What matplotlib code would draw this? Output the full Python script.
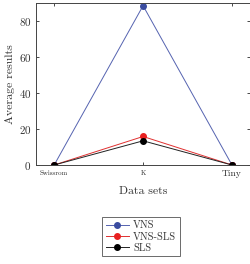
import matplotlib
matplotlib.use('Agg')
import matplotlib.pyplot as plt

plt.rcParams['font.family'] = ['cmr10', 'DejaVu Serif']
plt.rcParams['axes.formatter.use_mathtext'] = True

# data
datasets = ['Swissrom', 'K', 'Tiny']
vns     = [0.0, 88.3, 0.0]
vns_sls = [0.0, 15.8, 0.0]
sls     = [0.0, 13.4, 0.0]

fig = plt.figure(figsize=(2.51, 2.64), dpi=100)
ax = fig.add_axes([0.145, 0.375, 0.85, 0.615])

x = range(len(datasets))
ax.plot(x, vns, color='#5563b0', lw=0.7, marker='o', ms=4,
        mfc='#3a4ca0', mec='#3a4ca0', label='VNS')
ax.plot(x, vns_sls, color='#e03030', lw=0.7, marker='o', ms=4,
        mfc='#e82020', mec='#e82020', label='VNS-SLS')
ax.plot(x, sls, color='#222222', lw=0.7, marker='o', ms=4,
        mfc='black', mec='black', label='SLS')

ax.set_xlim(-0.2, 2.2)
ax.set_ylim(0, 90)
ax.set_yticks([0, 20, 40, 60, 80])
ax.set_xticks(list(x))
ax.set_xticklabels(datasets)
for lab, fs in zip(ax.get_xticklabels(), [5, 5, 7]):
    lab.set_fontsize(fs)
ax.tick_params(axis='y', labelsize=8)
ax.tick_params(direction='in', top=True, right=True, length=2.5, width=0.5,
               labelcolor='#333333')
for s in ax.spines.values():
    s.set_linewidth(0.7)
    s.set_color('#444444')

ax.set_xlabel('Data sets', fontsize=8.5, color='#333333', labelpad=6)
ax.set_ylabel('Average results', fontsize=8.5, color='#333333', labelpad=3)

leg = ax.legend(loc='upper center', bbox_to_anchor=(0.49, -0.29), fontsize=7.5,
                frameon=True, fancybox=False, edgecolor='#444444',
                handlelength=2.2, borderpad=0.35, labelspacing=0.15,
                handletextpad=0.4)
leg.get_frame().set_linewidth(0.7)
for t in leg.get_texts():
    t.set_color('#333333')

plt.savefig('out.png', dpi=100, facecolor='white')
